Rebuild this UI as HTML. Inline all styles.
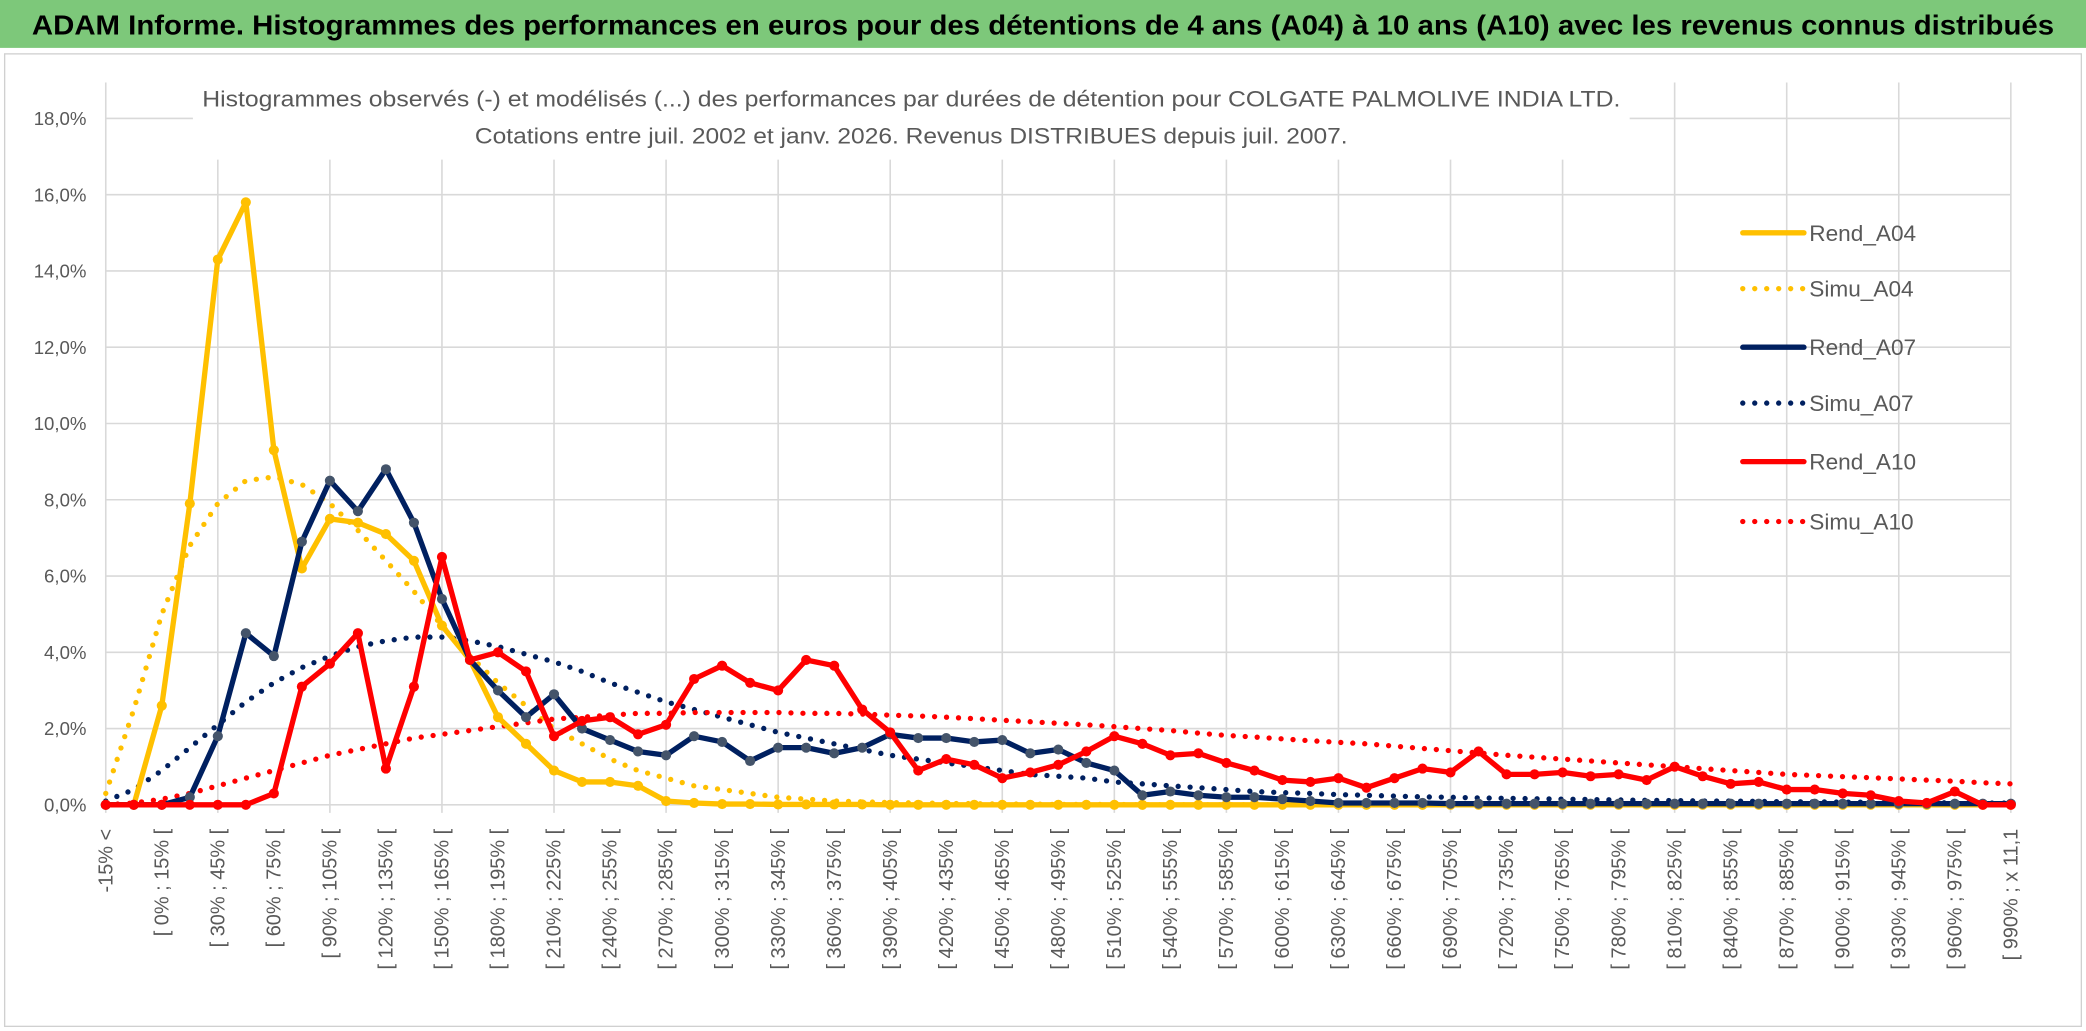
<!DOCTYPE html>
<html><head><meta charset="utf-8">
<style>
html,body{margin:0;padding:0;background:#fff;}
svg{display:block;font-family:"Liberation Sans",sans-serif;}
</style></head>
<body>
<svg id="chart" width="2086" height="1031" viewBox="0 0 1568 775" preserveAspectRatio="none">
  <rect x="0" y="0" width="1568" height="775" fill="#fff"/>
  <rect x="0" y="0" width="1568" height="36" fill="#7dc87a"/>
  <text x="784" y="26" text-anchor="middle" font-size="21" font-weight="bold" fill="#000" textLength="1520" lengthAdjust="spacingAndGlyphs">ADAM Informe. Histogrammes des performances en euros pour des détentions de 4 ans (A04) à 10 ans (A10) avec les revenus connus distribués</text>
  <rect x="3.5" y="40.5" width="1561" height="731" fill="none" stroke="#d0d0d0" stroke-width="1"/>
  <g id="grid"></g>
  <rect x="145" y="60" width="1080" height="60" fill="#fff"/>
  <text x="685" y="80" text-anchor="middle" font-size="17" fill="#595959" textLength="1066" lengthAdjust="spacingAndGlyphs">Histogrammes observés (-) et modélisés (...) des performances par durées de détention pour COLGATE PALMOLIVE INDIA LTD.</text>
  <text x="685" y="108" text-anchor="middle" font-size="17" fill="#595959" textLength="656" lengthAdjust="spacingAndGlyphs">Cotations entre juil. 2002 et janv. 2026. Revenus DISTRIBUES depuis juil. 2007.</text>
  <g id="series"></g>
  <g id="axes"></g>
  <g id="legend"></g>
</svg>
<script>
const yTicks = [0,2,4,6,8,10,12,14,16,18];
const rendA04 = [0,0,2.6,7.9,14.3,15.8,9.3,6.2,7.5,7.4,7.1,6.4,4.7,3.8,2.3,1.6,0.9,0.6,0.6,0.5,0.1,0.05,0.02,0.02,0.01,0.01,0.01,0.01,0,0,0,0,0,0,0,0,0,0,0,0,0,0,0,0,0,0,0,0,0,0,0,0,0,0,0,0,0,0,0,0,0,0,0,0,0,0,0,0,0];
const simuA04 = [0.3,2.5,5.0,6.8,7.9,8.5,8.6,8.4,7.9,7.2,6.4,5.6,4.7,3.9,3.2,2.6,2.0,1.6,1.2,0.9,0.7,0.5,0.4,0.3,0.2,0.15,0.1,0.08,0.06,0.05,0.04,0.03,0.02,0.02,0.01,0.01,0.01,0,0,0,0,0,0,0,0,0,0,0,0,0,0,0,0,0,0,0,0,0,0,0,0,0,0,0,0,0,0,0,0];
const rendA07 = [0,0,0,0.2,1.8,4.5,3.9,6.9,8.5,7.7,8.8,7.4,5.4,3.8,3.0,2.3,2.9,2.0,1.7,1.4,1.3,1.8,1.65,1.15,1.5,1.5,1.35,1.5,1.85,1.75,1.75,1.65,1.7,1.35,1.45,1.1,0.9,0.25,0.35,0.25,0.2,0.2,0.15,0.1,0.05,0.05,0.05,0.05,0.03,0.03,0.03,0.03,0.03,0.03,0.03,0.03,0.03,0.03,0.03,0.03,0.03,0.03,0.03,0.03,0.03,0.03,0.03,0.03,0.03];
const simuA07 = [0.1,0.4,0.9,1.5,2.1,2.7,3.2,3.6,3.9,4.15,4.3,4.4,4.4,4.3,4.15,3.95,3.75,3.5,3.2,2.95,2.7,2.5,2.3,2.1,1.9,1.75,1.6,1.45,1.3,1.2,1.1,1.0,0.9,0.8,0.75,0.7,0.6,0.55,0.5,0.45,0.4,0.35,0.32,0.3,0.27,0.25,0.23,0.21,0.2,0.18,0.17,0.16,0.15,0.14,0.13,0.12,0.11,0.1,0.1,0.09,0.08,0.08,0.07,0.07,0.06,0.06,0.05,0.05,0.05];
const rendA10 = [0,0,0,0,0,0,0.3,3.1,3.7,4.5,0.95,3.1,6.5,3.8,4.0,3.5,1.8,2.2,2.3,1.85,2.1,3.3,3.65,3.2,3.0,3.8,3.65,2.5,1.9,0.9,1.2,1.05,0.7,0.85,1.05,1.4,1.8,1.6,1.3,1.35,1.1,0.9,0.65,0.6,0.7,0.45,0.7,0.95,0.85,1.4,0.8,0.8,0.85,0.75,0.8,0.65,1.0,0.75,0.55,0.6,0.4,0.4,0.3,0.25,0.1,0.05,0.35,0,0];
const simuA10 = [0,0.05,0.15,0.3,0.5,0.7,0.9,1.1,1.3,1.45,1.6,1.75,1.85,1.95,2.05,2.15,2.25,2.3,2.35,2.4,2.4,2.42,2.42,2.42,2.42,2.4,2.4,2.38,2.35,2.33,2.3,2.26,2.22,2.18,2.14,2.1,2.05,2.0,1.95,1.88,1.82,1.78,1.73,1.68,1.64,1.6,1.54,1.48,1.42,1.36,1.3,1.25,1.2,1.15,1.1,1.05,1.0,0.95,0.9,0.85,0.8,0.77,0.74,0.71,0.68,0.65,0.62,0.58,0.55];
const nCat = 69;
const categories = ["-15% <"];
for (let s = -15; s <= 975; s += 15) categories.push("[ " + s + "% ; " + (s + 15) + "% [");
categories.push("[ 990% ; x 11,1");

const NS = "http://www.w3.org/2000/svg";
const X0 = 79.5, X1 = 1511.5, Y0 = 605, YTOP = 89, YMAX = 18;
function xScale(i){ return X0 + (X1 - X0) * i / (nCat - 1); }
function yScale(v){ return Y0 - (Y0 - YTOP) * v / YMAX; }
function mk(tag, attrs, parent){ const e = document.createElementNS(NS, tag); for (const k in attrs) e.setAttribute(k, attrs[k]); parent.appendChild(e); return e; }

const grid = document.getElementById('grid');
const axes = document.getElementById('axes');
yTicks.forEach(t => {
  const l = mk('line', {x1: X0, x2: X1, y1: yScale(t), y2: yScale(t), stroke: '#d9d9d9', 'stroke-width': 1.2}, grid);
  
  
  const tx = mk('text', {x: 65, y: yScale(t) + 5, 'text-anchor': 'end', 'font-size': 14, fill: '#595959'}, axes);
  tx.textContent = t.toFixed(1).replace('.', ',') + '%';
  
  
});
for (let i = 0; i < nCat; i++) {
  if (i % 4 === 0) {
    const l = mk('line', {x1: xScale(i), x2: xScale(i), y1: 62, y2: Y0 + 6, stroke: '#d9d9d9', 'stroke-width': 1.2}, grid);
    
    
  }
  if (i % 2 === 0) {
    const x = xScale(i) + 5;
    const tx = mk('text', {x: x, y: 623, 'text-anchor': 'end', 'font-size': 15, fill: '#595959', transform: 'rotate(-90 ' + x + ' 623)'}, axes);
    tx.textContent = categories[i];
    
    
  }
}

const seriesG = document.getElementById('series');
const defs = [
  {name: 'Simu_A04', data: simuA04, color: '#ffc000', dotted: true},
  {name: 'Simu_A07', data: simuA07, color: '#002060', dotted: true},
  {name: 'Simu_A10', data: simuA10, color: '#ff0000', dotted: true},
  {name: 'Rend_A04', data: rendA04, color: '#ffc000', dotted: false, marker: '#ffc000'},
  {name: 'Rend_A07', data: rendA07, color: '#002060', dotted: false, marker: '#44546a'},
  {name: 'Rend_A10', data: rendA10, color: '#ff0000', dotted: false, marker: '#ff0000'}
];
defs.forEach(s => {
  const pts = s.data.map((v, i) => xScale(i).toFixed(1) + ',' + yScale(v).toFixed(1)).join(' ');
  const attrs = {points: pts, fill: 'none', stroke: s.color, 'stroke-width': 4, 'stroke-linejoin': 'round', 'stroke-linecap': 'round'};
  if (s.dotted) attrs['stroke-dasharray'] = '0 9';
  const pl = mk('polyline', attrs, seriesG);
  
  
  if (!s.dotted) {
    s.data.forEach((v, i) => {
      const c = mk('circle', {cx: xScale(i), cy: yScale(v), r: 3.8, fill: s.marker}, seriesG);
      
      
    });
  }
});

const legend = document.getElementById('legend');
const legendItems = [
  {name: 'Rend_A04', color: '#ffc000', dotted: false, y: 175},
  {name: 'Simu_A04', color: '#ffc000', dotted: true, y: 217},
  {name: 'Rend_A07', color: '#002060', dotted: false, y: 261},
  {name: 'Simu_A07', color: '#002060', dotted: true, y: 303},
  {name: 'Rend_A10', color: '#ff0000', dotted: false, y: 347},
  {name: 'Simu_A10', color: '#ff0000', dotted: true, y: 392}
];
legendItems.forEach(it => {
  const a = {x1: 1310, x2: 1356, y1: it.y, y2: it.y, stroke: it.color, 'stroke-width': 4, 'stroke-linecap': 'round'};
  if (it.dotted) a['stroke-dasharray'] = '0 9';
  const l = mk('line', a, legend);
  
  
  const t = mk('text', {x: 1360, y: it.y + 6, 'font-size': 17, fill: '#595959'}, legend);
  t.textContent = it.name;
  
  
});
</script>
</body></html>
